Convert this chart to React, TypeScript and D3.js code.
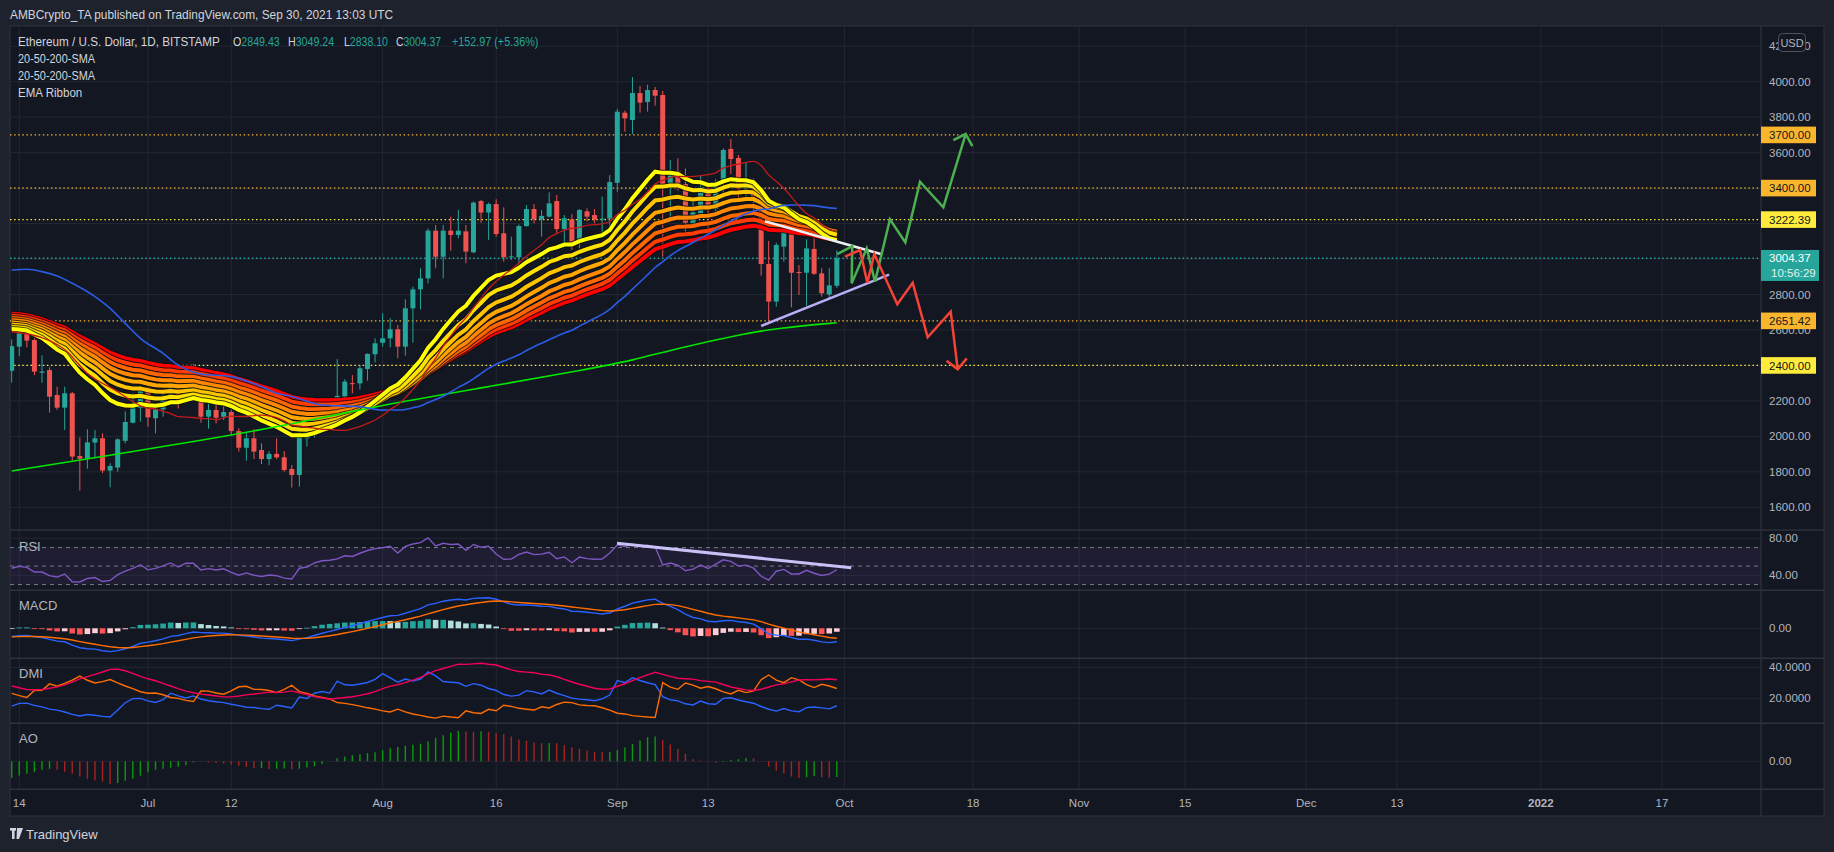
import React from "react";
import * as d3 from "d3";

// ---------------- data ----------------
const startDate = "2021-06-13";
const endDate = "2022-01-17";

const opens = [
  2370, 2506, 2581, 2543, 2359, 2374, 2233, 2162, 2243, 1889,
  1874, 1965, 1989, 1807, 1824, 1975, 2077, 2160, 2276, 2102,
  2152, 2224, 2322, 2196, 2322, 2312, 2111, 2149, 2111, 2137,
  2030, 1936, 1989, 1923, 1872, 1901, 1882, 1816, 1782, 1989,
  2021, 2120, 2186, 2186, 2224, 2300, 2299, 2380, 2463, 2528,
  2553, 2604, 2506, 2722, 2829, 2891, 3160, 3013, 3160, 3136,
  3156, 3038, 3327, 3262, 3310, 3145, 3010, 3010, 3186, 3282,
  3224, 3239, 3327, 3169, 3224, 3092, 3269, 3248, 3224, 3228,
  3430, 3825, 3784, 3936, 3885, 3953, 3925, 3427, 3496, 3423,
  3201, 3258, 3401, 3282, 3431, 3621, 3570, 3397, 3434, 3333,
  2972, 2760, 3070, 3154, 2927, 2923, 3057, 2919, 2800, 2849.43,
];
const highs = [
  2547, 2615, 2641, 2553, 2457, 2390, 2280, 2280, 2250, 1994,
  2040, 2036, 2017, 1848, 1989, 2141, 2243, 2288, 2280, 2168,
  2239, 2389, 2355, 2352, 2408, 2322, 2190, 2196, 2171, 2150,
  2045, 2021, 2041, 1961, 1917, 1989, 1917, 1838, 2044, 2045,
  2152, 2199, 2201, 2436, 2322, 2346, 2402, 2468, 2553, 2694,
  2666, 2628, 2773, 2844, 2948, 3173, 3192, 3192, 3239, 3277,
  3192, 3324, 3333, 3318, 3337, 3292, 3126, 3195, 3305, 3310,
  3277, 3376, 3361, 3248, 3254, 3282, 3286, 3282, 3352, 3474,
  3846, 3837, 4026, 3976, 3983, 3970, 3948, 3558, 3568, 3511,
  3348, 3472, 3432, 3449, 3624, 3677, 3587, 3547, 3455, 3352,
  3102, 3092, 3177, 3164, 2966, 3111, 3164, 2948, 2948, 3049.24,
];
const lows = [
  2303, 2453, 2502, 2346, 2303, 2134, 2150, 2036, 1863, 1694,
  1818, 1882, 1792, 1713, 1801, 1961, 2073, 2083, 2055, 2017,
  2111, 2182, 2158, 2186, 2300, 2077, 2043, 2073, 2092, 2008,
  1914, 1863, 1872, 1844, 1838, 1872, 1801, 1711, 1716, 1942,
  1993, 2102, 2102, 2167, 2149, 2243, 2265, 2314, 2417, 2506,
  2502, 2440, 2455, 2528, 2716, 2863, 2948, 2891, 3047, 3117,
  2976, 3032, 3205, 3107, 3126, 2985, 2995, 2953, 3182, 3201,
  3126, 3235, 3145, 3079, 3051, 3060, 3211, 3202, 3136, 3182,
  3380, 3718, 3705, 3825, 3831, 3865, 3013, 3211, 3386, 3145,
  3190, 3230, 3107, 3267, 3361, 3480, 3344, 3352, 3273, 2906,
  2647, 2731, 2985, 2728, 2797, 2735, 2910, 2788, 2778, 2838.1,
];
const closes = [
  2509, 2581, 2540, 2365, 2366, 2224, 2162, 2243, 1886, 1874,
  1966, 1989, 1807, 1833, 1983, 2081, 2160, 2276, 2107, 2152,
  2228, 2322, 2196, 2322, 2318, 2111, 2149, 2105, 2137, 2030,
  1936, 1989, 1914, 1872, 1901, 1882, 1810, 1782, 1998, 2026,
  2126, 2181, 2194, 2228, 2309, 2298, 2384, 2465, 2525, 2553,
  2604, 2506, 2722, 2829, 2891, 3160, 3013, 3160, 3136, 3160,
  3042, 3318, 3262, 3310, 3141, 3010, 3015, 3186, 3282, 3224,
  3243, 3314, 3169, 3230, 3088, 3277, 3239, 3224, 3228, 3434,
  3831, 3793, 3936, 3882, 3953, 3921, 3423, 3493, 3418, 3205,
  3263, 3406, 3278, 3434, 3615, 3564, 3397, 3434, 3324, 2972,
  2760, 3079, 3154, 2923, 2923, 3060, 2917, 2807, 2851.4, 3004.37,
];

// EMA ribbon (lengths, starting values at the left edge, colours)
const ribbonLengths = [20, 25, 30, 35, 40, 45, 50, 55];
const ribbonStart = [2605, 2617, 2630, 2642, 2655, 2667, 2680, 2692];
const ribbonColors = ["#ffff00", "#ffe100", "#ffc400", "#ffa600", "#ff8800", "#ff6600", "#ff3d00", "#ff0000"];

const sma20Early: [number, number][] = [[0, 2590], [5, 2540], [7, 2490], [10, 2355], [14, 2252], [16, 2196], [18, 2158]];
const sma50Early: [number, number][] = [
  [0, 2938], [2, 2942], [4, 2929], [6, 2904], [8, 2863], [11, 2788], [13, 2722], [15, 2637], [17, 2553],
  [20, 2468], [22, 2402], [25, 2352], [29, 2337], [33, 2280], [35, 2243], [37, 2225], [41, 2177], [46, 2167],
];
const sma200Points: [number, number][] = [
  [0, 1805], [12, 1886], [25, 1976], [38, 2077], [50, 2186], [63, 2280], [76, 2378], [82, 2428], [88, 2498],
  [97, 2581], [101, 2609], [109, 2641],
];

// indicator starting states
const rsiStart = [60, 66]; // avg gain, avg loss
const macdStart = [2565, 2640, -78]; // ema12, ema26, signal
const dmiStart = [180, 27, 41.8, 27.9]; // atr, +dm, -dm, adx
const aoEarly = [
  -412, -354, -311, -261, -210, -185, -210, -261, -311, -380,
  -438, -481, -506, -564, -539, -488, -438, -362, -271, -210,
  -185, -159, -134, -101, -33, -8, -33, -43, -58, -83,
  -109, -144, -170,
];

// horizontal levels
const levelPrices = [3700, 3400, 3222.39, 2651.42, 2400];
const levelColors = ["#f9b52c", "#f9b52c", "#ffeb3b", "#f9b52c", "#ffeb3b"];
const priceTicks = [1600, 1800, 2000, 2200, 2400, 2600, 2800, 3000, 3200, 3400, 3600, 3800, 4000, 4200];

const timeTickDates = [
  "2021-06-14", "2021-07-01", "2021-07-12", "2021-08-01", "2021-08-16", "2021-09-01", "2021-09-13",
  "2021-10-01", "2021-10-18", "2021-11-01", "2021-11-15", "2021-12-01", "2021-12-13", "2022-01-01", "2022-01-17",
];
const timeTickLabels = ["14", "Jul", "12", "Aug", "16", "Sep", "13", "Oct", "18", "Nov", "15", "Dec", "13", "2022", "17"];

// drawings: [dayIndex, price]
const whiteLine: [number, number][] = [[99.5, 3213], [114.8, 3028]];
const lavenderLine: [number, number][] = [[99.0, 2622], [115.9, 2912]];
const greenPath: [number, number][] = [
  [109.06, 3028], [111.04, 3073], [110.96, 2863], [112.95, 3060], [114.04, 2872], [116.02, 3224],
  [118.05, 3094], [119.99, 3436], [123.07, 3292], [126.02, 3705],
];
const greenArrow: [number, number][] = [[124.39, 3671], [126.02, 3705], [126.9, 3637]];
const redPath: [number, number][] = [
  [110.08, 3013], [112.06, 3051], [113.03, 2866], [113.95, 3028], [116.99, 2745], [119.02, 2866],
  [121.0, 2559], [124.04, 2703], [124.97, 2378],
];
const redArrow: [number, number][] = [[123.5, 2427], [124.97, 2378], [126.16, 2440]];
const rsiTrend: [number, number][] = [[79.96, 74.6], [110.9, 48.2]];

// ---------------- computations ----------------
const N = closes.length;
const DAY = 86400000;
const t0 = Date.parse(startDate + "T00:00:00Z");

function emaSeries(src: number[], len: number, seed: number) {
  const a = 2 / (len + 1);
  const out = [seed];
  for (let i = 1; i < src.length; i++) out.push(out[i - 1] + a * (src[i] - out[i - 1]));
  return out;
}
function smaAt(src: number[], i: number, len: number) {
  return d3.mean(src.slice(i - len + 1, i + 1)) as number;
}

const ribbons = ribbonLengths.map((L, k) => emaSeries(closes, L, ribbonStart[k]));

const sma20: [number, number][] = [...sma20Early];
for (let i = 19; i < N; i++) sma20.push([i, smaAt(closes, i, 20)]);
const sma50: [number, number][] = [...sma50Early];
for (let i = 49; i < N; i++) sma50.push([i, smaAt(closes, i, 50)]);

const rsi: number[] = [];
{
  let ag = rsiStart[0], al = rsiStart[1];
  rsi.push(100 - 100 / (1 + ag / al));
  for (let i = 1; i < N; i++) {
    const ch = closes[i] - closes[i - 1];
    ag = (ag * 13 + Math.max(ch, 0)) / 14;
    al = (al * 13 + Math.max(-ch, 0)) / 14;
    rsi.push(100 - 100 / (1 + ag / al));
  }
}

const e12 = emaSeries(closes, 12, macdStart[0]);
const e26 = emaSeries(closes, 26, macdStart[1]);
const macd = e12.map((v, i) => v - e26[i]);
const signal = emaSeries(macd, 9, macdStart[2]);
const hist = macd.map((v, i) => v - signal[i]);

const diPlus: number[] = [], diMinus: number[] = [], adx: number[] = [];
{
  let tr = dmiStart[0], pdm = dmiStart[1], mdm = dmiStart[2], ax = dmiStart[3];
  diPlus.push((100 * pdm) / tr); diMinus.push((100 * mdm) / tr); adx.push(ax);
  for (let i = 1; i < N; i++) {
    const up = highs[i] - highs[i - 1];
    const dn = lows[i - 1] - lows[i];
    const p = up > dn && up > 0 ? up : 0;
    const m = dn > up && dn > 0 ? dn : 0;
    const trv = Math.max(highs[i] - lows[i], Math.abs(highs[i] - closes[i - 1]), Math.abs(lows[i] - closes[i - 1]));
    tr = (tr * 13 + trv) / 14; pdm = (pdm * 13 + p) / 14; mdm = (mdm * 13 + m) / 14;
    const P = (100 * pdm) / tr, M = (100 * mdm) / tr;
    const dx = (100 * Math.abs(P - M)) / (P + M || 1);
    ax = (ax * 13 + dx) / 14;
    diPlus.push(P); diMinus.push(M); adx.push(ax);
  }
}

const hl2 = highs.map((h, i) => (h + lows[i]) / 2);
const ao = closes.map((_, i) => (i < aoEarly.length ? aoEarly[i] : smaAt(hl2, i, 5) - smaAt(hl2, i, 34)));

// ---------------- layout ----------------
const W = 1834, H = 852;
const FL = 10, FT = 26, FR = 1824, FB = 816;
const AX = 1761;
const X0 = 11.7, BAR = 7.57;
const PANES = { price: [FT, 530], rsi: [530, 590.3], macd: [590.3, 658.3], dmi: [658.3, 723.3], ao: [723.3, 789.3] };
const BG = "#131722", OUTER = "#1e222d", GRID = "#232733", SEP = "#2e323d", TXT = "#b2b5be", LEG = "#d1d4dc";
const FONT = "'Liberation Sans', Arial, sans-serif";
const UP = "#26a69a", DOWN = "#ef5350";

// horizontally condensed text (TradingView's UI font is narrower than the installed ones)
function Narrow(props: { x: number; y: number; sx: number; size?: number; fill?: string; children: React.ReactNode }) {
  return (
    <g transform={`translate(${props.x},${props.y}) scale(${props.sx},1)`}>
      <text x={0} y={0} fontSize={props.size ?? 13} fill={props.fill ?? LEG}>{props.children}</text>
    </g>
  );
}

export default function App() {
  const x = d3.scaleUtc()
    .domain([new Date(t0), new Date(Date.parse(endDate + "T00:00:00Z"))])
    .range([X0, X0 + ((Date.parse(endDate + "T00:00:00Z") - t0) / DAY) * BAR]);
  const xi = (i: number) => x(new Date(t0 + i * DAY));

  const y = d3.scaleLinear().domain([1600, 4000]).range([507.3, 81.7]);
  const yR = d3.scaleLinear().domain([40, 80]).range([575.3, 538.3]);
  const yD = d3.scaleLinear().domain([20, 40]).range([698.3, 667.3]);
  const macdMax = d3.max([...macd, ...signal]) as number;
  const yM = d3.scaleLinear().domain([0, macdMax]).range([628.3, 597.7]);
  const aoMax = d3.max(ao) as number;
  const yA = d3.scaleLinear().domain([0, aoMax]).range([761.3, 730.8]);

  const priceLine = d3.line<[number, number]>().x((d) => xi(d[0])).y((d) => y(d[1]));
  const smoothLine = d3.line<[number, number]>().x((d) => xi(d[0])).y((d) => y(d[1])).curve(d3.curveMonotoneX);
  const basisLine = d3.line<[number, number]>().x((d) => xi(d[0])).y((d) => y(d[1])).curve(d3.curveBasis);
  const seriesLine = (vals: number[], sc: (v: number) => number) =>
    d3.line<number>().x((_, i) => xi(i)).y((v) => sc(v))(vals) as string;

  const fmt2 = d3.format(".2f");
  const last = N - 1;
  const chg = closes[last] - closes[last - 1];
  const chgPct = (chg / closes[last - 1]) * 100;
  const curPriceY = y(closes[last]);

  // hide axis tick labels that sit under a coloured price label (as TradingView does)
  const visibleTicks = priceTicks.filter((t) => {
    const yy = y(t);
    if (levelPrices.some((p) => Math.abs(y(p) - yy) < 8.5)) return false;
    if (yy > curPriceY - 9 && yy < curPriceY + 23) return false;
    return true;
  });

  const clip = (id: string, y0: number, y1: number) => (
    <clipPath id={id}><rect x={FL} y={y0} width={AX - FL} height={y1 - y0} /></clipPath>
  );

  const axisText = (yy: number, label: string, key: string) => (
    <text key={key} x={1769} y={yy + 4} fill={TXT} fontSize={11.5} fontFamily={FONT}>{label}</text>
  );

  const histColor = (i: number) => {
    const h = hist[i], p = i > 0 ? hist[i - 1] : h;
    if (h >= 0) return p < h ? "#26a69a" : "#b2dfdb";
    return p < h ? "#ffcdd2" : "#ff5252";
  };

  return (
    <svg width={W} height={H} style={{ position: "absolute", left: 0, top: 0, display: "block" }} fontFamily={FONT}>
      <defs>
        {clip("cp", PANES.price[0], PANES.price[1])}
        {clip("cr", PANES.rsi[0], PANES.rsi[1])}
        {clip("cm", PANES.macd[0], PANES.macd[1])}
        {clip("cd", PANES.dmi[0], PANES.dmi[1])}
        {clip("ca", PANES.ao[0], PANES.ao[1])}
      </defs>
      <rect x={0} y={0} width={W} height={H} fill={OUTER} />
      <Narrow x={10} y={19} sx={0.915}>AMBCrypto_TA published on TradingView.com, Sep 30, 2021 13:03 UTC</Narrow>
      <rect x={FL} y={FT} width={FR - FL} height={FB - FT} fill={BG} stroke={SEP} strokeWidth={1} />

      {/* vertical grid */}
      {timeTickDates.map((d, k) => {
        const xx = x(new Date(Date.parse(d + "T00:00:00Z")));
        return <line key={"vg" + k} x1={xx} x2={xx} y1={FT} y2={PANES.ao[1]} stroke={GRID} strokeWidth={1} />;
      })}
      {/* price grid */}
      {priceTicks.map((t) => (
        <line key={"hg" + t} x1={FL} x2={AX} y1={y(t)} y2={y(t)} stroke={GRID} strokeWidth={1} />
      ))}
      {/* sub pane grids */}
      {[80, 40].map((v) => <line key={"rg" + v} x1={FL} x2={AX} y1={yR(v)} y2={yR(v)} stroke={GRID} />)}
      <line x1={FL} x2={AX} y1={yM(0)} y2={yM(0)} stroke={GRID} />
      {[40, 20].map((v) => <line key={"dg" + v} x1={FL} x2={AX} y1={yD(v)} y2={yD(v)} stroke={GRID} />)}
      <line x1={FL} x2={AX} y1={yA(0)} y2={yA(0)} stroke={GRID} />

      {/* ---------- price pane ---------- */}
      <g clipPath="url(#cp)">
        {levelPrices.map((p, k) => (
          <line key={"lv" + k} x1={FL} x2={AX} y1={y(p)} y2={y(p)} stroke={levelColors[k]} strokeWidth={1.3} strokeDasharray="1.5 2.6" />
        ))}
        <line x1={FL} x2={AX} y1={curPriceY} y2={curPriceY} stroke={UP} strokeWidth={1.3} strokeDasharray="1.5 2.6" />

        {/* candles */}
        {closes.map((c, i) => {
          const o = opens[i];
          const col = c >= o ? UP : DOWN;
          const cx = xi(i);
          const top = y(Math.max(o, c)), bot = y(Math.min(o, c));
          return (
            <g key={"c" + i}>
              <line x1={cx} x2={cx} y1={y(highs[i])} y2={y(lows[i])} stroke={col} strokeWidth={1} />
              <rect x={cx - 2.5} y={top} width={5} height={Math.max(1, bot - top)} fill={col} />
            </g>
          );
        })}

        {/* EMA ribbon, slowest first */}
        {ribbons.map((_, k0) => {
          const k = ribbons.length - 1 - k0;
          const d = seriesLine(ribbons[k], y);
          return (
            <g key={"rb" + k}>
              <path d={d} fill="none" stroke="#0c0e14" strokeOpacity={0.75} strokeWidth={6} />
              <path d={d} fill="none" stroke={ribbonColors[k]} strokeWidth={4} />
            </g>
          );
        })}

        {/* SMAs */}
        <path d={basisLine(sma200Points) as string} fill="none" stroke="#00e600" strokeWidth={1.6} />
        <path d={smoothLine(sma50) as string} fill="none" stroke="#2b5ce6" strokeWidth={1.6} />
        <path d={smoothLine(sma20) as string} fill="none" stroke="#c21a1a" strokeWidth={1.3} />

        {/* drawings */}
        <path d={priceLine(whiteLine) as string} stroke="#eceff1" strokeWidth={2.6} fill="none" />
        <path d={priceLine(lavenderLine) as string} stroke="#b7aef5" strokeWidth={2.6} fill="none" />
        <path d={priceLine(greenPath) as string} stroke="#4caf50" strokeWidth={2.5} fill="none" strokeLinejoin="miter" />
        <path d={priceLine(greenArrow) as string} stroke="#4caf50" strokeWidth={2.5} fill="none" />
        <path d={priceLine(redPath) as string} stroke="#f44336" strokeWidth={2.5} fill="none" strokeLinejoin="miter" />
        <path d={priceLine(redArrow) as string} stroke="#f44336" strokeWidth={2.5} fill="none" />
      </g>

      {/* legend */}
      <Narrow x={18} y={46} sx={0.9}>Ethereum / U.S. Dollar, 1D, BITSTAMP</Narrow>
      <Narrow x={233} y={46} sx={0.82}>O<tspan fill={UP}>{fmt2(opens[last])}</tspan></Narrow>
      <Narrow x={288} y={46} sx={0.82}>H<tspan fill={UP}>{fmt2(highs[last])}</tspan></Narrow>
      <Narrow x={344} y={46} sx={0.81}>L<tspan fill={UP}>{fmt2(lows[last])}</tspan></Narrow>
      <Narrow x={396} y={46} sx={0.8}>C<tspan fill={UP}>{fmt2(closes[last])}</tspan></Narrow>
      <Narrow x={452} y={46} sx={0.83} fill={UP}>
        {(chg >= 0 ? "+" : "") + fmt2(chg) + " (" + (chg >= 0 ? "+" : "") + fmt2(chgPct) + "%)"}
      </Narrow>
      <Narrow x={18} y={63} sx={0.84}>20-50-200-SMA</Narrow>
      <Narrow x={18} y={80} sx={0.84}>20-50-200-SMA</Narrow>
      <Narrow x={18} y={97} sx={0.89}>EMA Ribbon</Narrow>

      {/* ---------- RSI ---------- */}
      <g clipPath="url(#cr)">
        <rect x={FL} y={yR(70)} width={AX - FL} height={yR(30) - yR(70)} fill="#7e57c2" fillOpacity={0.1} />
        {[70, 50, 30].map((v) => (
          <line key={"rd" + v} x1={FL} x2={AX} y1={yR(v)} y2={yR(v)} stroke="#787b86" strokeWidth={1} strokeDasharray="4 4" />
        ))}
        <path d={seriesLine(rsi, yR)} fill="none" stroke="#7e57c2" strokeWidth={1.4} />
        <path
          d={d3.line<[number, number]>().x((d) => xi(d[0])).y((d) => yR(d[1]))(rsiTrend) as string}
          stroke="#c9c0f5" strokeWidth={3} fill="none"
        />
      </g>
      <text x={19} y={551} fontSize={13} fill={TXT}>RSI</text>

      {/* ---------- MACD ---------- */}
      <g clipPath="url(#cm)">
        {hist.map((h, i) => {
          const y0 = yM(0), y1 = yM(h);
          return <rect key={"h" + i} x={xi(i) - 2.8} y={Math.min(y0, y1)} width={5.6} height={Math.max(0.8, Math.abs(y1 - y0))} fill={histColor(i)} />;
        })}
        <path d={seriesLine(macd, yM)} fill="none" stroke="#2962ff" strokeWidth={1.4} />
        <path d={seriesLine(signal, yM)} fill="none" stroke="#ff6d00" strokeWidth={1.4} />
      </g>
      <text x={19} y={610} fontSize={13} fill={TXT}>MACD</text>

      {/* ---------- DMI ---------- */}
      <g clipPath="url(#cd)">
        <path d={seriesLine(diPlus, yD)} fill="none" stroke="#2962ff" strokeWidth={1.4} />
        <path d={seriesLine(diMinus, yD)} fill="none" stroke="#ff6d00" strokeWidth={1.4} />
        <path d={seriesLine(adx, yD)} fill="none" stroke="#f50057" strokeWidth={1.4} />
      </g>
      <text x={19} y={678} fontSize={13} fill={TXT}>DMI</text>

      {/* ---------- AO ---------- */}
      <g clipPath="url(#ca)">
        {ao.map((v, i) => {
          const col = i === 0 || v >= ao[i - 1] ? "#0b9a0b" : "#a62323";
          return <line key={"ao" + i} x1={xi(i)} x2={xi(i)} y1={yA(0)} y2={yA(v)} stroke={col} strokeWidth={1.4} />;
        })}
      </g>
      <text x={19} y={743} fontSize={13} fill={TXT}>AO</text>

      {/* pane separators */}
      {[PANES.rsi[0], PANES.macd[0], PANES.dmi[0], PANES.ao[0], PANES.ao[1]].map((yy, k) => (
        <line key={"sep" + k} x1={FL} x2={FR} y1={yy} y2={yy} stroke={SEP} strokeWidth={1.5} />
      ))}
      <line x1={AX} x2={AX} y1={FT} y2={FB} stroke={SEP} strokeWidth={1.2} />

      {/* price axis */}
      {visibleTicks.map((t) => axisText(y(t), fmt2(t), "pt" + t))}
      {levelPrices.map((p, k) => (
        <g key={"ll" + k}>
          <rect x={AX} y={y(p) - 8.3} width={55} height={16.6} fill={levelColors[k]} />
          <text x={1769} y={y(p) + 4.2} fontSize={11.5} fill="#131722">{fmt2(p)}</text>
        </g>
      ))}
      <rect x={AX} y={curPriceY - 8.3} width={58} height={31} fill={UP} />
      <text x={1769} y={curPriceY + 4.2} fontSize={11.5} fill="#ffffff">{fmt2(closes[last])}</text>
      <text x={1771} y={curPriceY + 19} fontSize={11.5} fill="#e0f2f1">10:56:29</text>
      <rect x={1778.5} y={33.5} width={27} height={18} rx={4} fill={BG} stroke="#50535e" />
      <text x={1792} y={46.5} fontSize={11} fill={TXT} textAnchor="middle">USD</text>

      {/* sub-pane axes */}
      {axisText(yR(80), "80.00", "r80")}
      {axisText(yR(40), "40.00", "r40")}
      {axisText(yM(0), "0.00", "m0")}
      {axisText(yD(40), "40.0000", "d40")}
      {axisText(yD(20), "20.0000", "d20")}
      {axisText(yA(0), "0.00", "a0")}

      {/* time axis */}
      {timeTickDates.map((d, k) => (
        <text key={"tt" + k} x={x(new Date(Date.parse(d + "T00:00:00Z")))} y={807} fontSize={11.5} fill={TXT} textAnchor="middle"
          fontWeight={timeTickLabels[k] === "2022" ? "bold" : "normal"}>
          {timeTickLabels[k]}
        </text>
      ))}

      {/* footer logo */}
      <g transform="translate(10,827)">
        <rect x={0} y={1} width={6} height={2.6} fill="#d1d4dc" />
        <rect x={2} y={1} width={2.6} height={11} fill="#d1d4dc" />
        <path d="M7 1 L13 1 L9 12 L6.5 12 Z" fill="#d1d4dc" />
      </g>
      <text x={26} y={839} fontSize={13} fill={LEG}>TradingView</text>
    </svg>
  );
}
